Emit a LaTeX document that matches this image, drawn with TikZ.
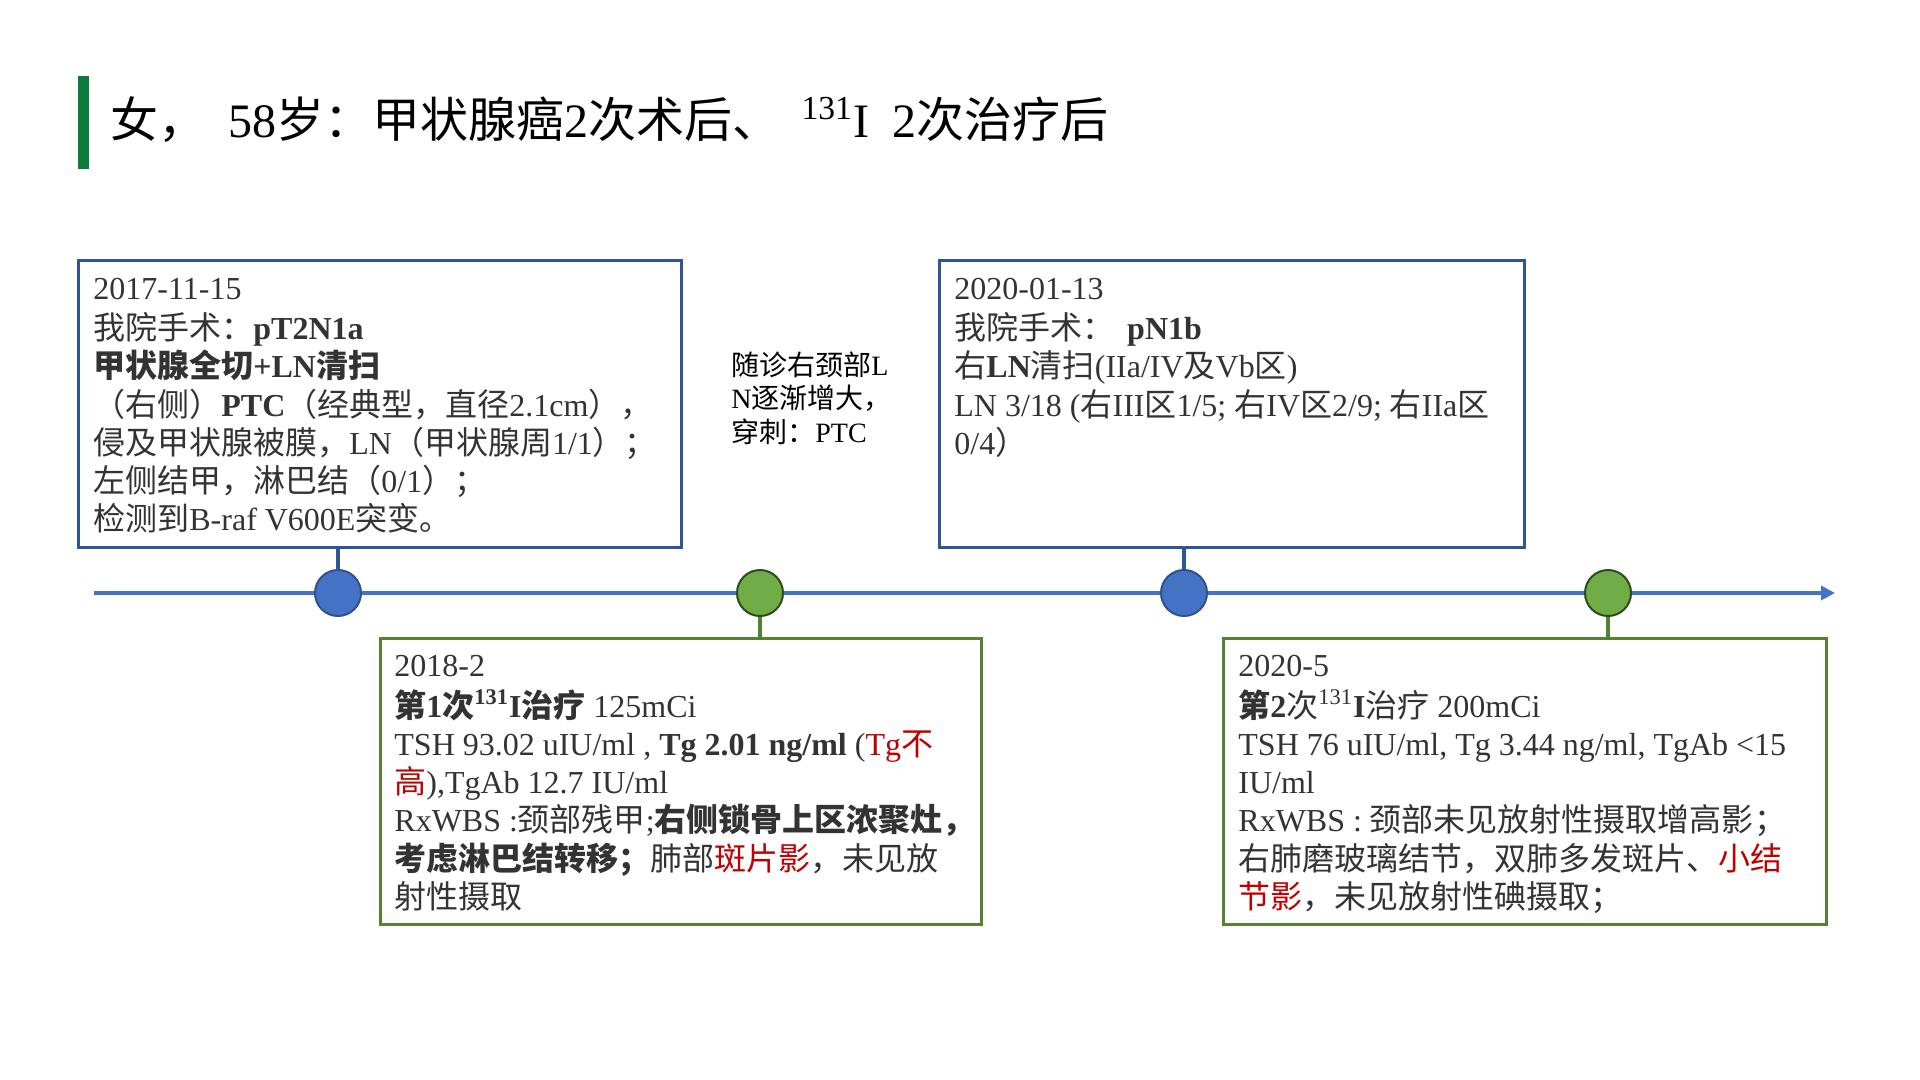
\documentclass[tikz,border=0pt]{standalone}
\usepackage{fontspec}
\setmainfont{Liberation Serif}
\newfontfamily\zhfont{Noto Sans CJK SC}
\usetikzlibrary{arrows.meta,fit}
\definecolor{tlblue}{HTML}{4472C4}
\definecolor{bblue}{HTML}{2F5597}
\definecolor{cblueline}{HTML}{2F528F}
\definecolor{gbox}{HTML}{548235}
\definecolor{cgreen}{HTML}{70AD47}
\definecolor{cgreenline}{HTML}{2E4A1E}
\definecolor{tgreen}{HTML}{0E7A3D}
\definecolor{ttext}{HTML}{333333}
\definecolor{tred}{HTML}{C00000}
\newcommand\zh[1]{{\zhfont #1}}
\newcommand\rd[1]{{\color{tred}#1}}
\tikzset{
  bluebox/.style={draw=bblue, line width=1.5pt, inner sep=0pt},
  greenbox/.style={draw=gbox, line width=1.5pt, inner sep=0pt},
  txt/.style={inner sep=0pt, anchor=north west, align=left, text=ttext,
    font=\fontsize{16}{19.1}\selectfont},
  midtxt/.style={inner sep=0pt, anchor=north west, align=left, text=black,
    font=\fontsize{14}{16.85}\selectfont},
  bdot/.style={circle, minimum size=23pt, inner sep=0pt, fill=tlblue, draw=cblueline, line width=1pt},
  gdot/.style={circle, minimum size=23pt, inner sep=0pt, fill=cgreen, draw=cgreenline, line width=1pt},
  bconn/.style={draw=bblue, line width=2pt},
  gconn/.style={draw=gbox, line width=2pt},
  tline/.style={draw=tlblue, line width=2pt, -{Triangle[length=7pt,width=7pt]}},
}
\begin{document}
\begin{tikzpicture}[x=0.5pt,y=-0.5pt]
\useasboundingbox (0,0) rectangle (1920,1080);
% title
\fill[tgreen] (78,76) rectangle (89,169);
\node[inner sep=0pt, anchor=base west, font=\fontsize{24}{28}\selectfont] (title) at (110,138)
  {\zh{女，}\hspace{0.45em}58\zh{岁：甲状腺癌}2\zh{次术后、}\hspace{0.45em}\textsuperscript{131}I\hspace{0.5em}2\zh{次治疗后}};
% boxes
\node[bluebox, fit={(78,261) (681,547)}] (b1) {};
\node[bluebox, fit={(939,261) (1524,547)}] (b2) {};
\node[greenbox, fit={(380,638) (981,924)}] (b3) {};
\node[greenbox, fit={(1223,638) (1826,924)}] (b4) {};
% box texts
\node[txt] (t1) at (93,272) {\strut 2017-11-15\\
\zh{我院手术：}\textbf{pT2N1a}\\
\textbf{\zh{甲状腺全切}+LN\zh{清扫}}\\
\zh{（右侧）}\textbf{PTC}\zh{（经典型，直径}2.1cm\zh{），}\\
\zh{侵及甲状腺被膜，}LN\zh{（甲状腺周}1/1\zh{）；}\\
\zh{左侧结甲，淋巴结（}0/1\zh{）；}\\
\zh{检测到}B-raf V600E\zh{突变。}};
\node[txt] (t2) at (954,272) {\strut 2020-01-13\\
\zh{我院手术：}\hspace{0.4em}\textbf{pN1b}\\
\zh{右}\textbf{LN}\zh{清扫}(IIa/IV\zh{及}Vb\zh{区})\\
LN 3/18 (\zh{右}III\zh{区}1/5; \zh{右}IV\zh{区}2/9; \zh{右}IIa\zh{区}\\
0/4\zh{）}};
\node[txt] (t3) at (394,649) {\strut 2018-2\\
\textbf{\zh{第}1\zh{次}\textsuperscript{131}I\zh{治疗}} 125mCi\\
TSH 93.02 uIU/ml , \textbf{Tg 2.01 ng/ml} (\rd{Tg\zh{不}}\\
\rd{\zh{高}}),TgAb 12.7 IU/ml\\
RxWBS :\zh{颈部残甲};\textbf{\zh{右侧锁骨上区浓聚灶，}}\\
\textbf{\zh{考虑淋巴结转移；}}\zh{肺部}\rd{\zh{斑片影}}\zh{，未见放}\\
\zh{射性摄取}};
\node[txt] (t4) at (1238,649) {\strut 2020-5\\
\textbf{\zh{第}2}\zh{次}\textsuperscript{131}\textbf{I}\zh{治疗} 200mCi\\
TSH 76 uIU/ml, Tg 3.44 ng/ml, TgAb <15\\
IU/ml\\
RxWBS : \zh{颈部未见放射性摄取增高影；}\\
\zh{右肺磨玻璃结节，双肺多发斑片、}\rd{\zh{小结}}\\
\rd{\zh{节影}}\zh{，未见放射性碘摄取；}};
% middle note
\node[midtxt] (mid) at (731,351) {\strut\zh{随诊右颈部}L\\
N\zh{逐渐增大，}\\
\zh{穿刺：}PTC};
% timeline
\coordinate (tl0) at (94,593);
\coordinate (tl1) at (1835,593);
\draw[tline] (tl0) -- (tl1);
% dots
\node[bdot] (c1) at (338,593) {};
\node[gdot] (c2) at (760,593) {};
\node[bdot] (c3) at (1184,593) {};
\node[gdot] (c4) at (1608,593) {};
% connectors
\draw[bconn] (b1.south -| c1) -- (c1.north);
\draw[gconn] (c2.south) -- (b3.north -| c2);
\draw[bconn] (b2.south -| c3) -- (c3.north);
\draw[gconn] (c4.south) -- (b4.north -| c4);
\end{tikzpicture}
\end{document}
